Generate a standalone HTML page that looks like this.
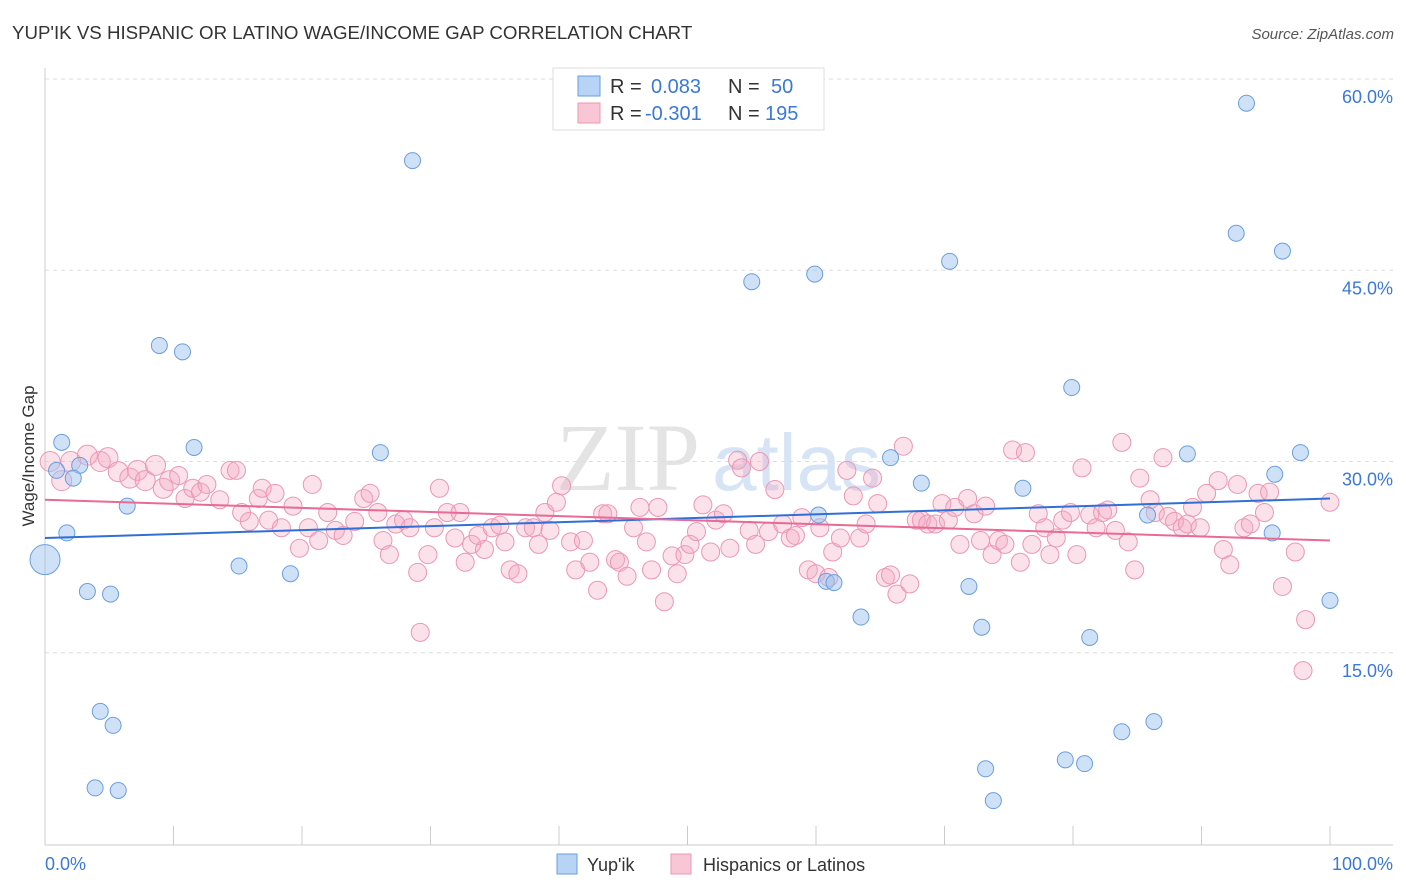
<!DOCTYPE html>
<html><head><meta charset="utf-8"><style>
body{margin:0;background:#fff;font-family:"Liberation Sans",sans-serif}
svg{display:block}
</style></head><body>
<svg id="chart" width="1406" height="892">
<text x="12" y="39" font-size="18.7" fill="#333">YUP'IK VS HISPANIC OR LATINO WAGE/INCOME GAP CORRELATION CHART</text>
<text x="1394" y="39" font-size="15" fill="#555" font-style="italic" text-anchor="end">Source: ZipAtlas.com</text>
<text x="700" y="490" font-size="96" fill="#e4e4e4" text-anchor="end" font-family="Liberation Serif,serif">ZIP</text>
<text x="712" y="490" font-size="80" fill="#d6e4f6">atlas</text>
<g id="grid"></g><g id="axes"></g><g id="pts"></g><g id="trend"></g>
<text transform="translate(34,456) rotate(-90)" font-size="17" fill="#333" text-anchor="middle">Wage/Income Gap</text>
<text x="45" y="870" font-size="18" fill="#3b78d8">0.0%</text>
<text x="1393" y="870" font-size="18" fill="#3b78d8" text-anchor="end">100.0%</text>
<g>
<rect x="553" y="68" width="271" height="62" fill="#fff" stroke="#ddd"/>
<rect x="578" y="76" width="22" height="20" fill="#b7d3f5" stroke="#6a9ee0"/>
<rect x="578" y="103" width="22" height="20" fill="#f9c6d5" stroke="#eb97b3"/>
<text x="610" y="93" font-size="20" fill="#333">R = </text><text x="651" y="93" font-size="20" fill="#3b78d8">0.083</text>
<text x="728" y="93" font-size="20" fill="#333">N = </text><text x="771" y="93" font-size="20" fill="#3b78d8">50</text>
<text x="610" y="120" font-size="20" fill="#333">R = </text><text x="645" y="120" font-size="20" fill="#3b78d8">-0.301</text>
<text x="728" y="120" font-size="20" fill="#333">N = </text><text x="765" y="120" font-size="20" fill="#3b78d8">195</text>
</g>
<g>
<rect x="557" y="854" width="20" height="20" fill="#b7d3f5" stroke="#6a9ee0"/>
<text x="587" y="871" font-size="18" fill="#333">Yup'ik</text>
<rect x="671" y="854" width="20" height="20" fill="#f9c6d5" stroke="#eb97b3"/>
<text x="703" y="871" font-size="18" fill="#333">Hispanics or Latinos</text>
</g>
</svg>
<script>
const yTicks=[15,30,45,60];
const xTicks=[0,10,20,30,40,50,60,70,80,90,100];
const blueX=[28.6,93.5,92.7,96.3,70.4,59.9,55.0,8.9,10.7,79.9,1.3,11.6,26.1,88.9,97.7,65.8,0.9,2.7,2.2,95.7,68.2,76.1,6.4,60.2,85.8,95.5,1.7,0,15.1,19.1,60.8,61.4,71.9,3.3,5.1,100,63.5,72.9,81.3,4.3,5.3,86.3,83.8,73.2,79.4,80.9,3.9,5.7,73.8];
const blueY=[53.6,58.1,47.9,46.5,45.7,44.7,44.1,39.1,38.6,35.8,31.5,31.1,30.7,30.6,30.7,30.3,29.3,29.7,28.7,29.0,28.3,27.9,26.5,25.8,25.8,24.4,24.4,22.3,21.8,21.2,20.6,20.5,20.2,19.8,19.6,19.1,17.8,17.0,16.2,10.4,9.3,9.6,8.8,5.9,6.6,6.3,4.4,4.2,3.4];
const pinkX=[0.4,1.3,2,3.3,4.3,4.9,5.7,6.6,7.2,7.8,8.6,9.2,9.7,10.4,10.9,11.5,12.1,12.6,13.6,14.4,14.9,15.3,15.9,16.6,16.9,17.4,17.9,18.4,19.3,19.8,20.5,20.8,21.3,22.0,22.6,23.2,24.1,24.8,25.3,25.9,26.3,26.8,27.3,27.9,28.4,29.0,29.2,29.8,30.3,30.7,31.3,31.9,32.3,32.7,33.2,33.7,34.2,34.8,35.4,35.8,36.2,36.8,37.4,38.0,38.4,38.9,39.3,39.8,40.2,40.9,41.3,41.9,42.4,43.0,43.4,43.8,44.4,44.7,45.3,45.8,46.3,46.8,47.2,47.7,48.2,48.8,49.2,49.8,50.2,50.7,51.2,51.8,52.2,52.8,53.3,53.9,54.2,54.8,55.3,55.6,56.3,56.8,57.4,58.0,58.4,58.9,59.4,60.0,60.3,61.0,61.3,61.9,62.4,62.9,63.4,63.9,64.4,64.8,65.4,65.8,66.3,66.8,67.3,67.8,68.2,68.7,69.3,69.8,70.3,70.8,71.2,71.8,72.3,72.8,73.2,73.7,74.2,74.7,75.3,75.9,76.3,76.8,77.3,77.8,78.2,78.7,79.2,79.8,80.3,80.7,81.3,81.8,82.3,82.7,83.3,83.8,84.3,84.8,85.2,86.0,86.4,87.0,87.4,87.9,88.5,88.9,89.3,89.9,90.4,91.3,91.7,92.2,92.8,93.3,93.8,94.4,94.9,95.3,96.3,97.3,98.1,97.9,100];
const pinkY=[30.0,28.5,30,30.5,30,30.3,29.2,28.7,29.3,28.5,29.7,27.9,28.5,28.9,27.1,27.9,27.6,28.2,27.0,29.3,29.3,26.0,25.3,27.1,27.9,25.4,27.5,24.8,26.5,23.2,24.8,28.2,23.8,26.0,24.6,24.2,25.3,27.1,27.5,26.0,23.8,22.7,25.1,25.4,24.8,21.3,16.6,22.7,24.8,27.9,26.0,24.0,26.0,22.1,23.5,24.2,23.1,24.8,25.0,23.7,21.5,21.2,24.8,24.8,23.5,26.0,24.6,26.8,28.1,23.7,21.5,23.8,22.1,19.9,25.9,25.9,22.3,22.1,21.0,24.8,26.4,23.7,21.5,26.4,19.0,22.6,21.2,22.7,23.5,24.5,26.6,22.9,25.4,25.9,23.2,30.1,29.5,24.6,23.5,30.0,24.5,27.8,25.1,24.0,24.2,25.6,21.5,21.2,24.8,20.9,22.9,24.0,29.3,27.3,24.0,25.1,28.7,26.7,20.9,21.1,19.6,31.2,20.4,25.4,25.4,25.1,25.1,26.7,25.4,26.4,23.5,27.1,25.9,23.8,26.5,22.7,23.8,23.5,30.9,22.1,30.7,23.5,25.9,24.8,22.7,24.0,25.4,26.0,22.7,29.5,25.8,24.8,26.0,26.2,24.6,31.5,23.7,21.5,28.7,27.0,26.0,30.3,25.7,25.3,24.8,25.1,26.4,24.8,27.5,28.5,23.1,21.9,28.2,24.8,25.1,27.5,26.0,27.6,20.2,22.9,17.6,13.6,26.8];
const blueTrend=[24.0,27.1];
const pinkTrend=[27.0,23.8];
const NS='http://www.w3.org/2000/svg';
const X=v=>45+v*12.85, Y=v=>844-v*12.75;
function mk(tag,attrs,parent){const e=document.createElementNS(NS,tag);for(const k in attrs)e.setAttribute(k,attrs[k]);parent.appendChild(e);return e;}
const grid=document.getElementById('grid'),axes=document.getElementById('axes'),pts=document.getElementById('pts'),tr=document.getElementById('trend');
yTicks.forEach(t=>{
 const l=mk('line',{x1:45,x2:1393,y1:Y(t),y2:Y(t),stroke:'#ddd','stroke-dasharray':'4,4'},grid);
 
 
 const tx=mk('text',{x:1393,y:Y(t)+24,'font-size':18,fill:'#3b78d8','text-anchor':'end'},grid);
 tx.textContent=t.toFixed(1)+'%';
 
 
});
const ax=mk('line',{x1:45,x2:1393,y1:845,y2:845,stroke:'#ccc'},axes);


const ay=mk('line',{x1:45,x2:45,y1:68,y2:845,stroke:'#ccc'},axes);


xTicks.forEach(t=>{
 const l=mk('line',{x1:X(t),x2:X(t),y1:826,y2:845,stroke:'#ccc'},axes);
 
 
});
pinkX.forEach((v,i)=>{
 const c=mk('circle',{cx:X(v),cy:Y(pinkY[i]),r:(v<10?10:9),fill:'rgba(244,168,196,0.35)',stroke:'#eb97b3','stroke-width':1},pts);
 
 
});
blueX.forEach((v,i)=>{
 const c=mk('circle',{cx:X(v),cy:Y(blueY[i]),r:(v===0?15:8),fill:'rgba(160,196,240,0.5)',stroke:'#6a9ee0','stroke-width':1},pts);
 
 
});
const bl=mk('line',{x1:X(0),x2:X(100),y1:Y(blueTrend[0]),y2:Y(blueTrend[1]),stroke:'#2f6fd6','stroke-width':2},tr);


const pl=mk('line',{x1:X(0),x2:X(100),y1:Y(pinkTrend[0]),y2:Y(pinkTrend[1]),stroke:'#e86a96','stroke-width':2},tr);


</script>
</body></html>
